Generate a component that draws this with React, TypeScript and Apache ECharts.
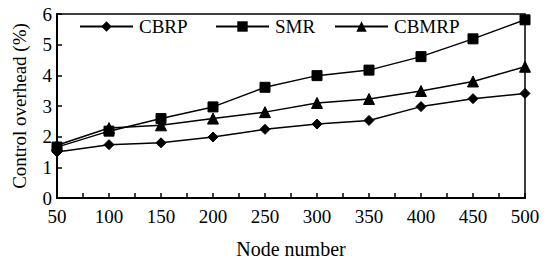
import React, { useEffect, useRef } from "react";
import * as echarts from "echarts";

const nodeNumbers = [50, 100, 150, 200, 250, 300, 350, 400, 450, 500];
const cbrp = [1.5, 1.74, 1.8, 1.99, 2.24, 2.41, 2.53, 2.98, 3.24, 3.41];
const smr = [1.66, 2.18, 2.59, 2.97, 3.61, 3.99, 4.17, 4.61, 5.19, 5.81];
const cbmrp = [1.72, 2.28, 2.37, 2.59, 2.8, 3.1, 3.23, 3.49, 3.8, 4.28];
const seriesNames = ["CBRP", "SMR", "CBMRP"];
const seriesSymbols = ["diamond", "rect", "triangle"];
const xName = "Node number";
const yName = "Control overhead (%)";

const FONT = "Liberation Serif";

export default function App() {
  const ref = useRef<HTMLDivElement>(null);
  useEffect(() => {
    if (!ref.current) return;
    const chart = echarts.init(ref.current, undefined, { renderer: "svg" });
    const values = [cbrp, smr, cbmrp];
    const legendLefts = [79, 215, 334];
    const symbolSizes = [10, 10, 11];
    chart.setOption({
      animation: false,
      backgroundColor: "#fff",
      textStyle: { fontFamily: FONT, color: "#000" },
      legend: seriesNames.map((n, i) => ({
        data: [n],
        left: legendLefts[i],
        top: 17,
        padding: 0,
        itemWidth: 53,
        itemHeight: 13,
        itemGap: 0,
        textStyle: { fontFamily: FONT, fontSize: 19, color: "#000", padding: [0, 0, 0, 1] },
      })),
      grid: {
        left: 57,
        right: 21,
        top: 14,
        bottom: 66,
        show: true,
        borderColor: "#000",
        borderWidth: 1.5,
        containLabel: false,
      },
      xAxis: {
        type: "value",
        min: 50,
        max: 500,
        interval: 50,
        name: xName,
        nameLocation: "middle",
        nameGap: 41,
        nameTextStyle: { fontFamily: FONT, fontSize: 20, color: "#000" },
        axisLine: { show: true, lineStyle: { color: "#000", width: 2 } },
        axisTick: { show: true, inside: true, length: 5, lineStyle: { color: "#000", width: 1.5 } },
        minorTick: { show: true, splitNumber: 2, length: 5, lineStyle: { color: "#000", width: 1.5 } },
        axisLabel: { fontFamily: FONT, fontSize: 19, color: "#000", margin: 9 },
        splitLine: { show: false },
      },
      yAxis: {
        type: "value",
        min: 0,
        max: 6,
        interval: 1,
        name: yName,
        nameLocation: "middle",
        nameGap: 28,
        nameTextStyle: { fontFamily: FONT, fontSize: 19, color: "#000" },
        axisLine: { show: true, lineStyle: { color: "#000", width: 2 } },
        axisTick: { show: true, inside: true, length: 5, lineStyle: { color: "#000", width: 1.5 } },
        axisLabel: { fontFamily: FONT, fontSize: 19, color: "#000", margin: 5 },
        splitLine: { show: false },
      },
      series: seriesNames.map((n, i) => ({
        name: n,
        type: "line",
        data: nodeNumbers.map((x, j) => [x, values[i][j]]),
        symbol: seriesSymbols[i],
        symbolSize: symbolSizes[i],
        showAllSymbol: true,
        lineStyle: { color: "#000", width: 1.5 },
        itemStyle: { color: "#000", borderColor: "#000" },
        emphasis: { disabled: true },
      })),
    });
    return () => chart.dispose();
  }, []);
  return (
    <div
      ref={ref}
      style={{ position: "fixed", left: 0, top: 0, width: 546, height: 264, background: "#fff" }}
    />
  );
}
